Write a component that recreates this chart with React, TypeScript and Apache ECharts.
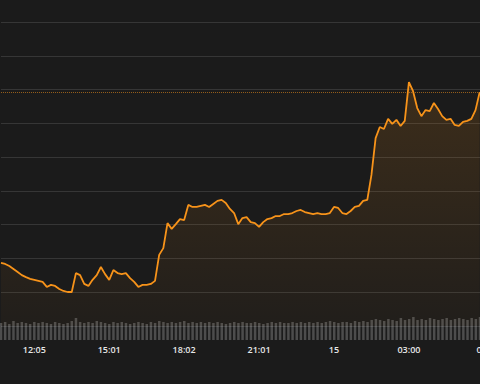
import React, { useEffect, useRef } from "react";
import * as echarts from "echarts";

// price (arbitrary units; grid lines every 10)
const prices = [
  18.6, 18.3, 17.7, 16.8, 15.9, 15.0, 14.4, 13.9, 13.6, 13.3,
  13.0, 11.5, 12.1, 11.8, 10.9, 10.3, 10.0, 10.0, 15.6, 15.0,
  12.4, 11.8, 13.6, 15.0, 17.4, 15.3, 13.6, 16.5, 15.6, 15.3,
  15.6, 14.1, 13.0, 11.5, 12.1, 12.1, 12.4, 13.3, 21.0, 23.0,
  30.4, 28.7, 30.1, 31.6, 31.3, 35.8, 35.2, 35.2, 35.5, 35.8,
  35.2, 36.1, 37.0, 37.3, 36.4, 34.6, 33.4, 30.1, 31.9, 32.2,
  30.7, 30.4, 29.3, 30.7, 31.6, 31.9, 32.5, 32.5, 33.1, 33.1,
  33.4, 34.0, 34.3, 33.7, 33.4, 33.1, 33.4, 33.1, 33.1, 33.4,
  35.2, 34.9, 33.4, 33.1, 34.0, 35.2, 35.5, 37.0, 37.3, 44.7,
  55.6, 58.9, 58.3, 61.3, 59.8, 61.0, 59.2, 60.7, 72.2, 69.5,
  64.5, 62.1, 63.9, 63.6, 66.0, 64.2, 62.1, 61.0, 61.3, 59.5,
  59.2, 60.4, 60.7, 61.3, 63.9, 69.2,
];

const volumes = [
  17, 18, 16, 19, 17, 18, 17, 16, 18, 17, 18,
  17, 16, 18, 17, 16, 17, 19, 22, 18, 17,
  18, 17, 19, 18, 17, 16, 18, 17, 18, 17,
  16, 17, 18, 17, 16, 18, 17, 19, 18, 17,
  18, 17, 18, 19, 17, 18, 17, 18, 17, 18,
  17, 18, 17, 16, 17, 18, 17, 18, 17, 17,
  18, 17, 16, 17, 18, 17, 18, 17, 17, 18,
  17, 18, 17, 18, 17, 18, 17, 18, 19, 18,
  17, 18, 18, 17, 19, 18, 19, 18, 20, 21,
  20, 19, 21, 20, 19, 22, 20, 21, 23, 20,
  21, 20, 22, 21, 20, 21, 22, 20, 21, 22,
  21, 20, 22, 21, 23,
];

const categoryCount = 118;
const categories = Array.from({ length: categoryCount }, (_, i) => String(i));
const volumeCategories = volumes.map((_, i) => String(i));
const tickIndex = [8, 26, 44, 62, 80, 98, 117];
const tickLabels = ["12:05", "15:01", "18:02", "21:01", "15", "03:00", "06:00"];

export default function App() {
  const ref = useRef<HTMLDivElement>(null);
  useEffect(() => {
    if (!ref.current) return;
    const chart = echarts.init(ref.current, undefined, { renderer: "svg" });
    const last = prices[prices.length - 1];
    chart.setOption({
      animation: false,
      backgroundColor: "#1b1b1b",
      grid: [
        { left: 1, right: 1, top: 22, bottom: 58.25, outerBoundsMode: "none", containLabel: false },
        { left: -1.1, right: 6.9, top: 316, bottom: 44, outerBoundsMode: "none", containLabel: false },
      ],
      xAxis: [
        {
          type: "category",
          gridIndex: 0,
          data: categories,
          boundaryGap: false,
          axisLine: { show: false },
          axisTick: { show: false },
          axisLabel: {
            show: true,
            color: "#e8e8e8",
            fontSize: 9,
            fontFamily: "Open Sans",
            fontWeight: 600,
            margin: 19,
            interval: (index: number) => tickIndex.includes(index),
            formatter: (_v: string, index: number) => {
              const k = tickIndex.indexOf(index);
              return k >= 0 ? tickLabels[k] : "";
            },
          },
          splitLine: { show: false },
        },
        {
          type: "category",
          gridIndex: 1,
          data: volumeCategories,
          boundaryGap: true,
          axisLine: { show: false },
          axisTick: { show: false },
          axisLabel: { show: false },
          splitLine: { show: false },
        },
      ],
      yAxis: [
        {
          type: "value",
          gridIndex: 0,
          min: 0,
          max: 90,
          interval: 10,
          axisLine: { show: false },
          axisTick: { show: false },
          axisLabel: { show: false },
          splitLine: { show: true, lineStyle: { color: "#363636", width: 1 } },
        },
        {
          type: "value",
          gridIndex: 1,
          min: 0,
          max: 24,
          axisLine: { show: false },
          axisTick: { show: false },
          axisLabel: { show: false },
          splitLine: { show: false },
        },
      ],
      series: [
        {
          type: "line",
          xAxisIndex: 0,
          yAxisIndex: 0,
          data: prices,
          showSymbol: false,
          symbol: "none",
          lineStyle: { color: "#f7931a", width: 1.8 },
          areaStyle: {
            color: new echarts.graphic.LinearGradient(0, 0, 0, 1, [
              { offset: 0, color: "rgba(247,147,26,0.22)" },
              { offset: 1, color: "rgba(247,147,26,0.04)" },
            ]),
          },
          markLine: {
            silent: true,
            symbol: "none",
            label: { show: false },
            lineStyle: { color: "rgba(247,147,26,0.55)", type: "dotted", width: 1 },
            data: [{ yAxis: last }],
          },
        },
        {
          type: "bar",
          xAxisIndex: 1,
          yAxisIndex: 1,
          data: volumes,
          barWidth: 2.5,
          itemStyle: { color: "rgba(255,255,255,0.22)" },
        },
      ],
    });
    return () => chart.dispose();
  }, []);
  return (
    <div
      style={{
        position: "fixed",
        left: 0,
        top: 0,
        width: 480,
        height: 384,
        overflow: "hidden",
        background: "#1b1b1b",
      }}
    >
      <div ref={ref} style={{ width: 489, height: 384 }} />
    </div>
  );
}
